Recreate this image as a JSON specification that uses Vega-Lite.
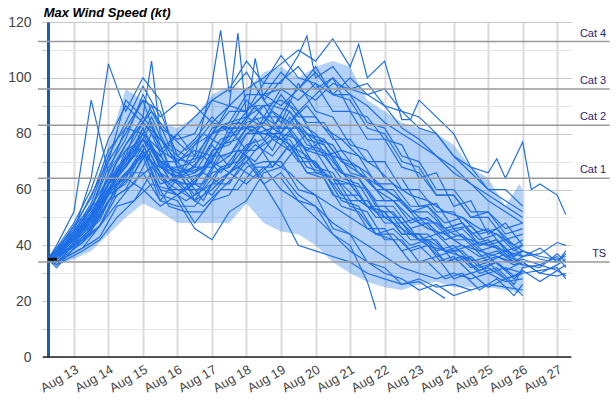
{
  "$schema": "https://vega.github.io/schema/vega-lite/v6.json",
  "description": "Ensemble forecasts of max wind speed",
  "autosize": "none",
  "padding": {"left": 48, "top": 22, "right": 45, "bottom": 45},
  "width": 523,
  "height": 335,
  "background": "white",
  "title": {
    "text": "Max Wind Speed (kt)",
    "anchor": "start",
    "font": "Liberation Sans",
    "fontSize": 13,
    "fontStyle": "italic",
    "fontWeight": "bold",
    "color": "#000",
    "offset": 5,
    "dx": 36,
    "dy": 10
  },
  "config": {"view": {"stroke": null}},
  "datasets": {
    "band": [
      {"t":12.25,"lo":34,"hi":36},{"t":12.5,"lo":33,"hi":38},{"t":13,"lo":35,"hi":46},{"t":13.5,"lo":38,"hi":56},
      {"t":14,"lo":44,"hi":76},{"t":14.5,"lo":50,"hi":96},{"t":15,"lo":55,"hi":92},{"t":15.5,"lo":52,"hi":84},
      {"t":16,"lo":48,"hi":82},{"t":16.5,"lo":48,"hi":86},{"t":17,"lo":48,"hi":94},{"t":17.5,"lo":48,"hi":97},
      {"t":18,"lo":55,"hi":96},{"t":18.5,"lo":48,"hi":102},{"t":19,"lo":45,"hi":104},{"t":19.5,"lo":44,"hi":100},
      {"t":20,"lo":40,"hi":104},{"t":20.5,"lo":34,"hi":106},{"t":21,"lo":30,"hi":104},{"t":21.5,"lo":27,"hi":92},
      {"t":22,"lo":25,"hi":88},{"t":22.5,"lo":24,"hi":84},{"t":23,"lo":26,"hi":82},{"t":23.5,"lo":27,"hi":80},
      {"t":24,"lo":25,"hi":76},{"t":24.5,"lo":25,"hi":68},{"t":25,"lo":25,"hi":64},{"t":25.5,"lo":24,"hi":54},
      {"t":25.9,"lo":23,"hi":62},{"t":26,"lo":23,"hi":60}
    ],
    "cats": [
      {"name":"TS","v":34},{"name":"Cat 1","v":64},{"name":"Cat 2","v":83},{"name":"Cat 3","v":96},{"name":"Cat 4","v":113}
    ],
    "members": [
      {"m":1,"t":12.25,"v":35},{"m":1,"t":12.5,"v":37},{"m":1,"t":13,"v":42},{"m":1,"t":13.5,"v":50},{"m":1,"t":14,"v":62},{"m":1,"t":14.5,"v":70},{"m":1,"t":15,"v":78},{"m":1,"t":15.5,"v":72},{"m":1,"t":16,"v":80},{"m":1,"t":16.5,"v":86},{"m":1,"t":17,"v":92},{"m":1,"t":17.5,"v":90},{"m":1,"t":18,"v":96},{"m":1,"t":18.5,"v":100},{"m":1,"t":19,"v":105},{"m":1,"t":19.5,"v":110},{"m":1,"t":20,"v":106},{"m":1,"t":20.5,"v":114},{"m":1,"t":21,"v":104},{"m":1,"t":21.25,"v":112},{"m":1,"t":21.5,"v":100},{"m":1,"t":22,"v":106},{"m":1,"t":22.5,"v":85},{"m":1,"t":22.75,"v":85},{"m":1,"t":23,"v":92},{"m":1,"t":23.5,"v":86},{"m":1,"t":24,"v":80},{"m":1,"t":24.5,"v":68},{"m":1,"t":25,"v":66},{"m":1,"t":25.25,"v":71},{"m":1,"t":25.5,"v":64},{"m":1,"t":26,"v":77},{"m":1,"t":26.25,"v":60},{"m":1,"t":26.5,"v":62},{"m":1,"t":27,"v":58},{"m":1,"t":27.25,"v":51},
      {"m":2,"t":12.25,"v":35},{"m":2,"t":12.5,"v":38},{"m":2,"t":13,"v":47},{"m":2,"t":13.5,"v":53},{"m":2,"t":14,"v":70},{"m":2,"t":14.5,"v":80},{"m":2,"t":15,"v":92},{"m":2,"t":15.5,"v":74},{"m":2,"t":16,"v":80},{"m":2,"t":16.5,"v":72},{"m":2,"t":17,"v":98},{"m":2,"t":17.25,"v":117},{"m":2,"t":17.5,"v":95},{"m":2,"t":18,"v":102},{"m":2,"t":18.5,"v":92},{"m":2,"t":19,"v":99},{"m":2,"t":19.5,"v":104},{"m":2,"t":20,"v":96},{"m":2,"t":20.5,"v":100},{"m":2,"t":21,"v":88},{"m":2,"t":21.5,"v":86},{"m":2,"t":22,"v":78},{"m":2,"t":22.5,"v":76},{"m":2,"t":23,"v":64},{"m":2,"t":23.5,"v":66},{"m":2,"t":24,"v":54},{"m":2,"t":24.5,"v":56},{"m":2,"t":25,"v":44},{"m":2,"t":25.5,"v":48},{"m":2,"t":26,"v":40},
      {"m":3,"t":12.25,"v":35},{"m":3,"t":12.5,"v":33},{"m":3,"t":13,"v":41},{"m":3,"t":13.5,"v":47},{"m":3,"t":14,"v":60},{"m":3,"t":14.5,"v":64},{"m":3,"t":15,"v":76},{"m":3,"t":15.5,"v":62},{"m":3,"t":16,"v":64},{"m":3,"t":16.5,"v":68},{"m":3,"t":17,"v":80},{"m":3,"t":17.5,"v":90},{"m":3,"t":17.75,"v":116},{"m":3,"t":18,"v":86},{"m":3,"t":18.25,"v":107},{"m":3,"t":18.5,"v":92},{"m":3,"t":19,"v":84},{"m":3,"t":19.5,"v":98},{"m":3,"t":20,"v":88},{"m":3,"t":20.5,"v":86},{"m":3,"t":21,"v":76},{"m":3,"t":21.5,"v":74},{"m":3,"t":22,"v":64},{"m":3,"t":22.5,"v":64},{"m":3,"t":23,"v":54},{"m":3,"t":23.5,"v":55},{"m":3,"t":24,"v":46},{"m":3,"t":24.5,"v":47},{"m":3,"t":25,"v":40},{"m":3,"t":25.5,"v":42},{"m":3,"t":26,"v":36},
      {"m":4,"t":12.25,"v":35},{"m":4,"t":12.5,"v":38},{"m":4,"t":13,"v":42},{"m":4,"t":13.5,"v":54},{"m":4,"t":14,"v":58},{"m":4,"t":14.5,"v":74},{"m":4,"t":15,"v":78},{"m":4,"t":15.5,"v":72},{"m":4,"t":16,"v":64},{"m":4,"t":16.5,"v":76},{"m":4,"t":17,"v":80},{"m":4,"t":17.5,"v":88},{"m":4,"t":18,"v":88},{"m":4,"t":18.5,"v":98},{"m":4,"t":19,"v":98},{"m":4,"t":19.5,"v":108},{"m":4,"t":19.75,"v":115},{"m":4,"t":20,"v":100},{"m":4,"t":20.5,"v":104},{"m":4,"t":21,"v":96},{"m":4,"t":21.5,"v":98},{"m":4,"t":22,"v":90},{"m":4,"t":22.5,"v":88},{"m":4,"t":23,"v":82},{"m":4,"t":23.5,"v":80},{"m":4,"t":24,"v":72},{"m":4,"t":24.5,"v":68},{"m":4,"t":25,"v":60},{"m":4,"t":25.5,"v":60},{"m":4,"t":26,"v":54},
      {"m":5,"t":12.25,"v":35},{"m":5,"t":12.5,"v":39},{"m":5,"t":13,"v":45},{"m":5,"t":13.5,"v":64},{"m":5,"t":14,"v":105},{"m":5,"t":14.5,"v":88},{"m":5,"t":15,"v":100},{"m":5,"t":15.5,"v":92},{"m":5,"t":16,"v":68},{"m":5,"t":16.5,"v":66},{"m":5,"t":17,"v":70},{"m":5,"t":17.5,"v":82},{"m":5,"t":18,"v":74},{"m":5,"t":18.5,"v":86},{"m":5,"t":19,"v":86},{"m":5,"t":19.5,"v":82},{"m":5,"t":20,"v":74},{"m":5,"t":20.5,"v":72},{"m":5,"t":21,"v":62},{"m":5,"t":21.5,"v":60},{"m":5,"t":22,"v":50},{"m":5,"t":22.5,"v":50},{"m":5,"t":23,"v":42},{"m":5,"t":23.5,"v":42},{"m":5,"t":24,"v":34},{"m":5,"t":24.5,"v":36},{"m":5,"t":25,"v":30},{"m":5,"t":25.5,"v":32},{"m":5,"t":26,"v":30},
      {"m":6,"t":12.25,"v":35},{"m":6,"t":12.5,"v":36},{"m":6,"t":13,"v":43},{"m":6,"t":13.5,"v":49},{"m":6,"t":14,"v":66},{"m":6,"t":14.5,"v":76},{"m":6,"t":15,"v":86},{"m":6,"t":15.25,"v":106},{"m":6,"t":15.5,"v":80},{"m":6,"t":16,"v":68},{"m":6,"t":16.5,"v":56},{"m":6,"t":17,"v":66},{"m":6,"t":17.5,"v":68},{"m":6,"t":18,"v":76},{"m":6,"t":18.5,"v":78},{"m":6,"t":19,"v":86},{"m":6,"t":19.5,"v":76},{"m":6,"t":20,"v":74},{"m":6,"t":20.5,"v":64},{"m":6,"t":21,"v":62},{"m":6,"t":21.5,"v":54},{"m":6,"t":22,"v":52},{"m":6,"t":22.5,"v":44},{"m":6,"t":23,"v":44},{"m":6,"t":23.5,"v":36},{"m":6,"t":24,"v":38},{"m":6,"t":24.5,"v":32},{"m":6,"t":25,"v":34},{"m":6,"t":25.5,"v":28},{"m":6,"t":26,"v":30},
      {"m":7,"t":12.25,"v":35},{"m":7,"t":12.5,"v":40},{"m":7,"t":13,"v":52},{"m":7,"t":13.5,"v":92},{"m":7,"t":14,"v":66},{"m":7,"t":14.5,"v":82},{"m":7,"t":15,"v":92},{"m":7,"t":15.5,"v":88},{"m":7,"t":16,"v":72},{"m":7,"t":16.5,"v":68},{"m":7,"t":17,"v":68},{"m":7,"t":17.5,"v":80},{"m":7,"t":18,"v":82},{"m":7,"t":18.5,"v":90},{"m":7,"t":19,"v":80},{"m":7,"t":19.5,"v":88},{"m":7,"t":20,"v":78},{"m":7,"t":20.5,"v":76},{"m":7,"t":21,"v":66},{"m":7,"t":21.5,"v":64},{"m":7,"t":22,"v":56},{"m":7,"t":22.5,"v":56},{"m":7,"t":23,"v":48},{"m":7,"t":23.5,"v":48},{"m":7,"t":24,"v":42},{"m":7,"t":24.5,"v":42},{"m":7,"t":25,"v":36},{"m":7,"t":25.5,"v":38},{"m":7,"t":26,"v":33},{"m":7,"t":26.5,"v":32},{"m":7,"t":27,"v":37},{"m":7,"t":27.25,"v":34},
      {"m":8,"t":12.25,"v":35},{"m":8,"t":12.5,"v":37},{"m":8,"t":13,"v":45},{"m":8,"t":13.5,"v":55},{"m":8,"t":14,"v":72},{"m":8,"t":14.5,"v":84},{"m":8,"t":15,"v":97},{"m":8,"t":15.5,"v":86},{"m":8,"t":16,"v":91},{"m":8,"t":16.5,"v":90},{"m":8,"t":17,"v":84},{"m":8,"t":17.5,"v":82},{"m":8,"t":18,"v":82},{"m":8,"t":18.5,"v":80},{"m":8,"t":19,"v":80},{"m":8,"t":19.5,"v":78},{"m":8,"t":20,"v":68},{"m":8,"t":20.5,"v":66},{"m":8,"t":21,"v":56},{"m":8,"t":21.5,"v":56},{"m":8,"t":22,"v":48},{"m":8,"t":22.5,"v":48},{"m":8,"t":23,"v":42},{"m":8,"t":23.5,"v":44},{"m":8,"t":24,"v":38},{"m":8,"t":24.5,"v":40},{"m":8,"t":25,"v":34},{"m":8,"t":25.5,"v":37},{"m":8,"t":26,"v":33},
      {"m":9,"t":12.25,"v":35},{"m":9,"t":12.5,"v":32},{"m":9,"t":13,"v":39},{"m":9,"t":13.5,"v":45},{"m":9,"t":14,"v":56},{"m":9,"t":14.5,"v":60},{"m":9,"t":15,"v":72},{"m":9,"t":15.5,"v":56},{"m":9,"t":16,"v":54},{"m":9,"t":16.5,"v":54},{"m":9,"t":17,"v":62},{"m":9,"t":17.5,"v":62},{"m":9,"t":18,"v":72},{"m":9,"t":18.5,"v":64},{"m":9,"t":19,"v":64},{"m":9,"t":19.5,"v":56},{"m":9,"t":20,"v":54},{"m":9,"t":20.5,"v":44},{"m":9,"t":21,"v":40},{"m":9,"t":21.5,"v":27},{"m":9,"t":21.75,"v":17},
      {"m":10,"t":12.25,"v":35},{"m":10,"t":12.5,"v":34},{"m":10,"t":13,"v":40},{"m":10,"t":13.5,"v":46},{"m":10,"t":14,"v":58},{"m":10,"t":14.5,"v":62},{"m":10,"t":15,"v":74},{"m":10,"t":15.5,"v":60},{"m":10,"t":16,"v":58},{"m":10,"t":16.5,"v":48},{"m":10,"t":17,"v":56},{"m":10,"t":17.5,"v":58},{"m":10,"t":18,"v":68},{"m":10,"t":18.5,"v":70},{"m":10,"t":19,"v":70},{"m":10,"t":19.5,"v":60},{"m":10,"t":20,"v":58},{"m":10,"t":20.5,"v":46},{"m":10,"t":21,"v":44},{"m":10,"t":21.5,"v":34},{"m":10,"t":22,"v":32},{"m":10,"t":22.5,"v":26},{"m":10,"t":23,"v":27},{"m":10,"t":23.5,"v":23},{"m":10,"t":23.75,"v":21},
      {"m":11,"t":12.25,"v":35},{"m":11,"t":12.5,"v":36},{"m":11,"t":13,"v":42},{"m":11,"t":13.5,"v":48},{"m":11,"t":14,"v":60},{"m":11,"t":14.5,"v":64},{"m":11,"t":15,"v":74},{"m":11,"t":15.5,"v":58},{"m":11,"t":16,"v":56},{"m":11,"t":16.5,"v":46},{"m":11,"t":17,"v":42},{"m":11,"t":17.5,"v":52},{"m":11,"t":18,"v":56},{"m":11,"t":18.5,"v":66},{"m":11,"t":19,"v":68},{"m":11,"t":19.5,"v":76},{"m":11,"t":20,"v":66},{"m":11,"t":20.5,"v":64},{"m":11,"t":21,"v":54},{"m":11,"t":21.5,"v":52},{"m":11,"t":22,"v":42},{"m":11,"t":22.5,"v":42},{"m":11,"t":23,"v":34},{"m":11,"t":23.5,"v":36},{"m":11,"t":24,"v":28},{"m":11,"t":24.5,"v":30},{"m":11,"t":25,"v":25},{"m":11,"t":25.5,"v":28},{"m":11,"t":26,"v":22},
      {"m":12,"t":12.25,"v":35},{"m":12,"t":12.5,"v":37},{"m":12,"t":13.25,"v":44},{"m":12,"t":13.75,"v":52},{"m":12,"t":14.25,"v":66},{"m":12,"t":14.75,"v":72},{"m":12,"t":15.25,"v":84},{"m":12,"t":15.75,"v":68},{"m":12,"t":16.25,"v":66},{"m":12,"t":16.75,"v":68},{"m":12,"t":17.25,"v":78},{"m":12,"t":17.75,"v":80},{"m":12,"t":18.25,"v":90},{"m":12,"t":18.75,"v":82},{"m":12,"t":19.25,"v":92},{"m":12,"t":19.75,"v":84},{"m":12,"t":20.25,"v":84},{"m":12,"t":20.75,"v":74},{"m":12,"t":21.25,"v":72},{"m":12,"t":21.75,"v":62},{"m":12,"t":22.25,"v":62},{"m":12,"t":22.75,"v":54},{"m":12,"t":23.25,"v":54},{"m":12,"t":23.75,"v":46},{"m":12,"t":24.25,"v":48},{"m":12,"t":24.75,"v":40},{"m":12,"t":25.25,"v":42},{"m":12,"t":25.75,"v":36},{"m":12,"t":26,"v":38},{"m":12,"t":26.5,"v":36},{"m":12,"t":27,"v":35},{"m":12,"t":27.25,"v":36},
      {"m":13,"t":12.25,"v":35},{"m":13,"t":12.5,"v":35},{"m":13,"t":13,"v":41},{"m":13,"t":13.5,"v":49},{"m":13,"t":14,"v":62},{"m":13,"t":14.5,"v":68},{"m":13,"t":15,"v":78},{"m":13,"t":15.5,"v":66},{"m":13,"t":16,"v":62},{"m":13,"t":16.5,"v":62},{"m":13,"t":17,"v":74},{"m":13,"t":17.5,"v":76},{"m":13,"t":18,"v":84},{"m":13,"t":18.5,"v":86},{"m":13,"t":19,"v":82},{"m":13,"t":19.5,"v":82},{"m":13,"t":20,"v":78},{"m":13,"t":20.5,"v":68},{"m":13,"t":21,"v":64},{"m":13,"t":21.5,"v":54},{"m":13,"t":22,"v":52},{"m":13,"t":22.5,"v":44},{"m":13,"t":23,"v":44},{"m":13,"t":23.5,"v":38},{"m":13,"t":24,"v":40},{"m":13,"t":24.5,"v":34},{"m":13,"t":25,"v":36},{"m":13,"t":25.5,"v":31},{"m":13,"t":26,"v":34},{"m":13,"t":26.5,"v":30},{"m":13,"t":27,"v":29},{"m":13,"t":27.25,"v":30},
      {"m":14,"t":12.25,"v":35},{"m":14,"t":12.5,"v":38},{"m":14,"t":13.25,"v":47},{"m":14,"t":13.75,"v":55},{"m":14,"t":14.25,"v":68},{"m":14,"t":14.75,"v":74},{"m":14,"t":15.25,"v":86},{"m":14,"t":15.75,"v":72},{"m":14,"t":16.25,"v":70},{"m":14,"t":16.75,"v":72},{"m":14,"t":17.25,"v":82},{"m":14,"t":17.75,"v":84},{"m":14,"t":18.25,"v":82},{"m":14,"t":18.75,"v":74},{"m":14,"t":19.25,"v":86},{"m":14,"t":19.75,"v":76},{"m":14,"t":20.25,"v":74},{"m":14,"t":20.75,"v":66},{"m":14,"t":21.25,"v":64},{"m":14,"t":21.75,"v":56},{"m":14,"t":22.25,"v":56},{"m":14,"t":22.75,"v":48},{"m":14,"t":23.25,"v":50},{"m":14,"t":23.75,"v":44},{"m":14,"t":24.25,"v":46},{"m":14,"t":24.75,"v":40},{"m":14,"t":25.25,"v":42},{"m":14,"t":25.75,"v":36},{"m":14,"t":26,"v":38},
      {"m":15,"t":12.25,"v":35},{"m":15,"t":12.5,"v":36},{"m":15,"t":13,"v":43},{"m":15,"t":13.5,"v":49},{"m":15,"t":14,"v":60},{"m":15,"t":14.5,"v":66},{"m":15,"t":15,"v":66},{"m":15,"t":15.5,"v":56},{"m":15,"t":16,"v":64},{"m":15,"t":16.5,"v":66},{"m":15,"t":17,"v":76},{"m":15,"t":17.5,"v":68},{"m":15,"t":18,"v":80},{"m":15,"t":18.5,"v":84},{"m":15,"t":19,"v":94},{"m":15,"t":19.5,"v":86},{"m":15,"t":20,"v":86},{"m":15,"t":20.5,"v":78},{"m":15,"t":21,"v":78},{"m":15,"t":21.5,"v":70},{"m":15,"t":22,"v":70},{"m":15,"t":22.5,"v":60},{"m":15,"t":23,"v":60},{"m":15,"t":23.5,"v":52},{"m":15,"t":24,"v":52},{"m":15,"t":24.5,"v":44},{"m":15,"t":25,"v":46},{"m":15,"t":25.5,"v":38},{"m":15,"t":26,"v":40},
      {"m":16,"t":12.25,"v":35},{"m":16,"t":12.5,"v":37},{"m":16,"t":13,"v":45},{"m":16,"t":13.5,"v":53},{"m":16,"t":14,"v":68},{"m":16,"t":14.5,"v":78},{"m":16,"t":15,"v":94},{"m":16,"t":15.5,"v":82},{"m":16,"t":16,"v":78},{"m":16,"t":16.5,"v":80},{"m":16,"t":17,"v":92},{"m":16,"t":17.5,"v":96},{"m":16,"t":18,"v":106},{"m":16,"t":18.5,"v":98},{"m":16,"t":19,"v":108},{"m":16,"t":19.5,"v":100},{"m":16,"t":20,"v":98},{"m":16,"t":20.5,"v":88},{"m":16,"t":21,"v":88},{"m":16,"t":21.5,"v":78},{"m":16,"t":22,"v":78},{"m":16,"t":22.5,"v":68},{"m":16,"t":23,"v":66},{"m":16,"t":23.5,"v":58},{"m":16,"t":24,"v":58},{"m":16,"t":24.5,"v":50},{"m":16,"t":25,"v":52},{"m":16,"t":25.5,"v":44},{"m":16,"t":26,"v":46},
      {"m":17,"t":12.25,"v":35},{"m":17,"t":12.5,"v":34},{"m":17,"t":13.25,"v":39},{"m":17,"t":13.75,"v":43},{"m":17,"t":14.25,"v":54},{"m":17,"t":14.75,"v":56},{"m":17,"t":15.25,"v":66},{"m":17,"t":15.75,"v":54},{"m":17,"t":16.25,"v":52},{"m":17,"t":16.75,"v":52},{"m":17,"t":17.25,"v":60},{"m":17,"t":17.75,"v":60},{"m":17,"t":18.25,"v":68},{"m":17,"t":18.75,"v":68},{"m":17,"t":19.25,"v":76},{"m":17,"t":19.75,"v":66},{"m":17,"t":20.25,"v":66},{"m":17,"t":20.75,"v":56},{"m":17,"t":21.25,"v":54},{"m":17,"t":21.75,"v":44},{"m":17,"t":22.25,"v":42},{"m":17,"t":22.75,"v":34},{"m":17,"t":23.25,"v":34},{"m":17,"t":23.75,"v":28},{"m":17,"t":24.25,"v":30},{"m":17,"t":24.75,"v":24},{"m":17,"t":25.25,"v":28},{"m":17,"t":25.75,"v":22},{"m":17,"t":26,"v":26},
      {"m":18,"t":12.25,"v":35},{"m":18,"t":12.5,"v":36},{"m":18,"t":13,"v":44},{"m":18,"t":13.5,"v":51},{"m":18,"t":14,"v":64},{"m":18,"t":14.5,"v":70},{"m":18,"t":15,"v":82},{"m":18,"t":15.5,"v":68},{"m":18,"t":16,"v":66},{"m":18,"t":16.5,"v":58},{"m":18,"t":17,"v":68},{"m":18,"t":17.5,"v":72},{"m":18,"t":18,"v":82},{"m":18,"t":18.5,"v":84},{"m":18,"t":19,"v":80},{"m":18,"t":19.5,"v":72},{"m":18,"t":20,"v":70},{"m":18,"t":20.5,"v":58},{"m":18,"t":21,"v":56},{"m":18,"t":21.5,"v":46},{"m":18,"t":22,"v":46},{"m":18,"t":22.5,"v":38},{"m":18,"t":23,"v":40},{"m":18,"t":23.5,"v":34},{"m":18,"t":24,"v":36},{"m":18,"t":24.5,"v":30},{"m":18,"t":25,"v":32},{"m":18,"t":25.5,"v":28},{"m":18,"t":26,"v":30},{"m":18,"t":26.5,"v":31},{"m":18,"t":27,"v":32},{"m":18,"t":27.25,"v":28},
      {"m":19,"t":12.25,"v":35},{"m":19,"t":12.5,"v":37},{"m":19,"t":13.25,"v":46},{"m":19,"t":13.75,"v":55},{"m":19,"t":14.25,"v":70},{"m":19,"t":14.75,"v":78},{"m":19,"t":15.25,"v":90},{"m":19,"t":15.75,"v":76},{"m":19,"t":16.25,"v":72},{"m":19,"t":16.75,"v":72},{"m":19,"t":17.25,"v":82},{"m":19,"t":17.75,"v":82},{"m":19,"t":18.25,"v":90},{"m":19,"t":18.75,"v":90},{"m":19,"t":19.25,"v":88},{"m":19,"t":19.75,"v":78},{"m":19,"t":20.25,"v":76},{"m":19,"t":20.75,"v":66},{"m":19,"t":21.25,"v":64},{"m":19,"t":21.75,"v":54},{"m":19,"t":22.25,"v":54},{"m":19,"t":22.75,"v":46},{"m":19,"t":23.25,"v":48},{"m":19,"t":23.75,"v":42},{"m":19,"t":24.25,"v":44},{"m":19,"t":24.75,"v":38},{"m":19,"t":25.25,"v":40},{"m":19,"t":25.75,"v":34},{"m":19,"t":26,"v":36},{"m":19,"t":26.5,"v":37},{"m":19,"t":27,"v":41},{"m":19,"t":27.25,"v":40},
      {"m":20,"t":12.25,"v":35},{"m":20,"t":12.5,"v":36},{"m":20,"t":13.25,"v":42},{"m":20,"t":13.75,"v":47},{"m":20,"t":14.25,"v":58},{"m":20,"t":14.75,"v":62},{"m":20,"t":15.25,"v":74},{"m":20,"t":15.75,"v":64},{"m":20,"t":16.25,"v":64},{"m":20,"t":16.75,"v":66},{"m":20,"t":17.25,"v":76},{"m":20,"t":17.75,"v":78},{"m":20,"t":18.25,"v":86},{"m":20,"t":18.75,"v":78},{"m":20,"t":19.25,"v":88},{"m":20,"t":19.75,"v":80},{"m":20,"t":20.25,"v":78},{"m":20,"t":20.75,"v":70},{"m":20,"t":21.25,"v":68},{"m":20,"t":21.75,"v":60},{"m":20,"t":22.25,"v":60},{"m":20,"t":22.75,"v":52},{"m":20,"t":23.25,"v":52},{"m":20,"t":23.75,"v":46},{"m":20,"t":24.25,"v":48},{"m":20,"t":24.75,"v":42},{"m":20,"t":25.25,"v":44},{"m":20,"t":25.75,"v":38},{"m":20,"t":26,"v":40},
      {"m":21,"t":12.25,"v":35},{"m":21,"t":12.5,"v":38},{"m":21,"t":13,"v":47},{"m":21,"t":13.5,"v":57},{"m":21,"t":14,"v":74},{"m":21,"t":14.5,"v":82},{"m":21,"t":15,"v":80},{"m":21,"t":15.5,"v":68},{"m":21,"t":16,"v":68},{"m":21,"t":16.5,"v":70},{"m":21,"t":17,"v":82},{"m":21,"t":17.5,"v":84},{"m":21,"t":18,"v":94},{"m":21,"t":18.5,"v":94},{"m":21,"t":19,"v":102},{"m":21,"t":19.5,"v":96},{"m":21,"t":20,"v":104},{"m":21,"t":20.5,"v":94},{"m":21,"t":21,"v":92},{"m":21,"t":21.5,"v":82},{"m":21,"t":22,"v":80},{"m":21,"t":22.5,"v":70},{"m":21,"t":23,"v":68},{"m":21,"t":23.5,"v":58},{"m":21,"t":24,"v":58},{"m":21,"t":24.5,"v":50},{"m":21,"t":25,"v":50},{"m":21,"t":25.5,"v":42},{"m":21,"t":26,"v":44},
      {"m":22,"t":12.25,"v":35},{"m":22,"t":12.5,"v":34},{"m":22,"t":13.25,"v":41},{"m":22,"t":13.75,"v":47},{"m":22,"t":14.25,"v":60},{"m":22,"t":14.75,"v":66},{"m":22,"t":15.25,"v":76},{"m":22,"t":15.75,"v":64},{"m":22,"t":16.25,"v":62},{"m":22,"t":16.75,"v":62},{"m":22,"t":17.25,"v":72},{"m":22,"t":17.75,"v":74},{"m":22,"t":18.25,"v":74},{"m":22,"t":18.75,"v":78},{"m":22,"t":19.25,"v":78},{"m":22,"t":19.75,"v":68},{"m":22,"t":20.25,"v":66},{"m":22,"t":20.75,"v":58},{"m":22,"t":21.25,"v":58},{"m":22,"t":21.75,"v":50},{"m":22,"t":22.25,"v":50},{"m":22,"t":22.75,"v":42},{"m":22,"t":23.25,"v":42},{"m":22,"t":23.75,"v":34},{"m":22,"t":24.25,"v":36},{"m":22,"t":24.75,"v":30},{"m":22,"t":25.25,"v":32},{"m":22,"t":25.75,"v":26},{"m":22,"t":26,"v":32},{"m":22,"t":26.5,"v":33},{"m":22,"t":27,"v":31},{"m":22,"t":27.25,"v":33},
      {"m":23,"t":12.25,"v":35},{"m":23,"t":12.5,"v":37},{"m":23,"t":13,"v":43},{"m":23,"t":13.5,"v":51},{"m":23,"t":14,"v":64},{"m":23,"t":14.5,"v":68},{"m":23,"t":15,"v":78},{"m":23,"t":15.5,"v":70},{"m":23,"t":16,"v":70},{"m":23,"t":16.5,"v":62},{"m":23,"t":17,"v":72},{"m":23,"t":17.5,"v":72},{"m":23,"t":18,"v":80},{"m":23,"t":18.5,"v":80},{"m":23,"t":19,"v":78},{"m":23,"t":19.5,"v":70},{"m":23,"t":20,"v":70},{"m":23,"t":20.5,"v":62},{"m":23,"t":21,"v":62},{"m":23,"t":21.5,"v":54},{"m":23,"t":22,"v":54},{"m":23,"t":22.5,"v":48},{"m":23,"t":23,"v":50},{"m":23,"t":23.5,"v":44},{"m":23,"t":24,"v":46},{"m":23,"t":24.5,"v":40},{"m":23,"t":25,"v":42},{"m":23,"t":25.5,"v":36},{"m":23,"t":26,"v":38},{"m":23,"t":26.5,"v":35},{"m":23,"t":27,"v":34},{"m":23,"t":27.25,"v":38},
      {"m":24,"t":12.25,"v":35},{"m":24,"t":12.5,"v":36},{"m":24,"t":13.25,"v":45},{"m":24,"t":13.75,"v":53},{"m":24,"t":14.25,"v":66},{"m":24,"t":14.75,"v":72},{"m":24,"t":15.25,"v":72},{"m":24,"t":15.75,"v":60},{"m":24,"t":16.25,"v":60},{"m":24,"t":16.75,"v":60},{"m":24,"t":17.25,"v":68},{"m":24,"t":17.75,"v":70},{"m":24,"t":18.25,"v":78},{"m":24,"t":18.75,"v":68},{"m":24,"t":19.25,"v":76},{"m":24,"t":19.75,"v":66},{"m":24,"t":20.25,"v":64},{"m":24,"t":20.75,"v":54},{"m":24,"t":21.25,"v":52},{"m":24,"t":21.75,"v":44},{"m":24,"t":22.25,"v":44},{"m":24,"t":22.75,"v":38},{"m":24,"t":23.25,"v":40},{"m":24,"t":23.75,"v":34},{"m":24,"t":24.25,"v":36},{"m":24,"t":24.75,"v":31},{"m":24,"t":25.25,"v":34},{"m":24,"t":25.75,"v":29},{"m":24,"t":26,"v":31},
      {"m":25,"t":12.25,"v":35},{"m":25,"t":12.5,"v":37},{"m":25,"t":13,"v":44},{"m":25,"t":13.5,"v":50},{"m":25,"t":14,"v":62},{"m":25,"t":14.5,"v":68},{"m":25,"t":15,"v":82},{"m":25,"t":15.5,"v":70},{"m":25,"t":16,"v":66},{"m":25,"t":16.5,"v":68},{"m":25,"t":17,"v":80},{"m":25,"t":17.5,"v":82},{"m":25,"t":18,"v":92},{"m":25,"t":18.5,"v":86},{"m":25,"t":19,"v":96},{"m":25,"t":19.5,"v":96},{"m":25,"t":20,"v":102},{"m":25,"t":20.5,"v":94},{"m":25,"t":21,"v":94},{"m":25,"t":21.5,"v":84},{"m":25,"t":22,"v":82},{"m":25,"t":22.5,"v":72},{"m":25,"t":23,"v":70},{"m":25,"t":23.5,"v":60},{"m":25,"t":24,"v":60},{"m":25,"t":24.5,"v":52},{"m":25,"t":25,"v":52},{"m":25,"t":25.5,"v":46},{"m":25,"t":26,"v":48},
      {"m":26,"t":12.25,"v":35},{"m":26,"t":12.5,"v":36},{"m":26,"t":13.25,"v":43},{"m":26,"t":13.75,"v":49},{"m":26,"t":14.25,"v":62},{"m":26,"t":14.75,"v":68},{"m":26,"t":15.25,"v":80},{"m":26,"t":15.75,"v":66},{"m":26,"t":16.25,"v":64},{"m":26,"t":16.75,"v":56},{"m":26,"t":17.25,"v":68},{"m":26,"t":17.75,"v":70},{"m":26,"t":18.25,"v":80},{"m":26,"t":18.75,"v":82},{"m":26,"t":19.25,"v":82},{"m":26,"t":19.75,"v":74},{"m":26,"t":20.25,"v":72},{"m":26,"t":20.75,"v":64},{"m":26,"t":21.25,"v":62},{"m":26,"t":21.75,"v":52},{"m":26,"t":22.25,"v":52},{"m":26,"t":22.75,"v":44},{"m":26,"t":23.25,"v":44},{"m":26,"t":23.75,"v":38},{"m":26,"t":24.25,"v":38},{"m":26,"t":24.75,"v":32},{"m":26,"t":25.25,"v":34},{"m":26,"t":25.75,"v":28},{"m":26,"t":26,"v":31},{"m":26,"t":26.5,"v":27},{"m":26,"t":27,"v":31},{"m":26,"t":27.25,"v":29},
      {"m":27,"t":12.25,"v":35},{"m":27,"t":12.5,"v":39},{"m":27,"t":13,"v":48},{"m":27,"t":13.5,"v":60},{"m":27,"t":14,"v":78},{"m":27,"t":14.5,"v":90},{"m":27,"t":15,"v":84},{"m":27,"t":15.5,"v":76},{"m":27,"t":16,"v":62},{"m":27,"t":16.5,"v":56},{"m":27,"t":17,"v":60},{"m":27,"t":17.5,"v":66},{"m":27,"t":18,"v":70},{"m":27,"t":18.5,"v":62},{"m":27,"t":19,"v":66},{"m":27,"t":19.5,"v":58},{"m":27,"t":20,"v":54},{"m":27,"t":20.5,"v":48},{"m":27,"t":21,"v":44},{"m":27,"t":21.5,"v":40},{"m":27,"t":22,"v":36},{"m":27,"t":22.5,"v":32},{"m":27,"t":23,"v":30},{"m":27,"t":23.5,"v":28},{"m":27,"t":24,"v":30},{"m":27,"t":24.5,"v":28},{"m":27,"t":25,"v":30},{"m":27,"t":25.5,"v":27},{"m":27,"t":26,"v":28},
      {"m":28,"t":12.25,"v":35},{"m":28,"t":12.5,"v":33},{"m":28,"t":13.25,"v":38},{"m":28,"t":13.75,"v":42},{"m":28,"t":14.25,"v":50},{"m":28,"t":14.75,"v":56},{"m":28,"t":15.25,"v":62},{"m":28,"t":15.75,"v":60},{"m":28,"t":16.25,"v":56},{"m":28,"t":16.75,"v":60},{"m":28,"t":17.25,"v":64},{"m":28,"t":17.75,"v":68},{"m":28,"t":18.25,"v":64},{"m":28,"t":18.75,"v":70},{"m":28,"t":19.25,"v":66},{"m":28,"t":19.75,"v":60},{"m":28,"t":20.25,"v":56},{"m":28,"t":20.75,"v":52},{"m":28,"t":21.25,"v":48},{"m":28,"t":21.75,"v":44},{"m":28,"t":22.25,"v":46},{"m":28,"t":22.75,"v":40},{"m":28,"t":23.25,"v":42},{"m":28,"t":23.75,"v":38},{"m":28,"t":24.25,"v":40},{"m":28,"t":24.75,"v":36},{"m":28,"t":25.25,"v":38},{"m":28,"t":25.75,"v":34},{"m":28,"t":26,"v":35},{"m":28,"t":26.5,"v":33},{"m":28,"t":27,"v":36},{"m":28,"t":27.25,"v":32},
      {"m":29,"t":12.25,"v":35},{"m":29,"t":12.5,"v":37},{"m":29,"t":13,"v":44},{"m":29,"t":13.5,"v":52},{"m":29,"t":14,"v":62},{"m":29,"t":14.5,"v":72},{"m":29,"t":15,"v":80},{"m":29,"t":15.5,"v":74},{"m":29,"t":16,"v":70},{"m":29,"t":16.5,"v":76},{"m":29,"t":17,"v":84},{"m":29,"t":17.5,"v":90},{"m":29,"t":18,"v":88},{"m":29,"t":18.5,"v":94},{"m":29,"t":19,"v":96},{"m":29,"t":19.5,"v":92},{"m":29,"t":20,"v":98},{"m":29,"t":20.5,"v":94},{"m":29,"t":21,"v":100},{"m":29,"t":21.5,"v":94},{"m":29,"t":22,"v":96},{"m":29,"t":22.5,"v":88},{"m":29,"t":23,"v":86},{"m":29,"t":23.5,"v":80},{"m":29,"t":24,"v":72},{"m":29,"t":24.5,"v":66},{"m":29,"t":25,"v":60},{"m":29,"t":25.5,"v":56},{"m":29,"t":26,"v":52},
      {"m":30,"t":12.25,"v":35},{"m":30,"t":12.5,"v":36},{"m":30,"t":13.25,"v":42},{"m":30,"t":13.75,"v":52},{"m":30,"t":14.25,"v":64},{"m":30,"t":14.75,"v":80},{"m":30,"t":15.25,"v":88},{"m":30,"t":15.75,"v":80},{"m":30,"t":16.25,"v":74},{"m":30,"t":16.75,"v":80},{"m":30,"t":17.25,"v":76},{"m":30,"t":17.75,"v":84},{"m":30,"t":18.25,"v":80},{"m":30,"t":18.75,"v":88},{"m":30,"t":19.25,"v":84},{"m":30,"t":19.75,"v":90},{"m":30,"t":20.25,"v":82},{"m":30,"t":20.75,"v":78},{"m":30,"t":21.25,"v":72},{"m":30,"t":21.75,"v":68},{"m":30,"t":22.25,"v":62},{"m":30,"t":22.75,"v":58},{"m":30,"t":23.25,"v":56},{"m":30,"t":23.75,"v":52},{"m":30,"t":24.25,"v":50},{"m":30,"t":24.75,"v":46},{"m":30,"t":25.25,"v":44},{"m":30,"t":25.75,"v":40},{"m":30,"t":26,"v":38},
      {"m":31,"t":12.25,"v":35},{"m":31,"t":12.5,"v":35},{"m":31,"t":13,"v":40},{"m":31,"t":13.5,"v":46},{"m":31,"t":14,"v":56},{"m":31,"t":14.5,"v":64},{"m":31,"t":15,"v":60},{"m":31,"t":15.5,"v":54},{"m":31,"t":16,"v":58},{"m":31,"t":16.5,"v":62},{"m":31,"t":17,"v":58},{"m":31,"t":17.5,"v":66},{"m":31,"t":18,"v":62},{"m":31,"t":18.5,"v":68},{"m":31,"t":19,"v":60},{"m":31,"t":19.5,"v":56},{"m":31,"t":20,"v":50},{"m":31,"t":20.5,"v":44},{"m":31,"t":21,"v":38},{"m":31,"t":21.5,"v":34},{"m":31,"t":22,"v":30},{"m":31,"t":22.5,"v":28},{"m":31,"t":23,"v":24},{"m":31,"t":23.5,"v":26},{"m":31,"t":24,"v":22},{"m":31,"t":24.5,"v":24},
      {"m":32,"t":12.25,"v":35},{"m":32,"t":12.5,"v":38},{"m":32,"t":13,"v":46},{"m":32,"t":13.5,"v":58},{"m":32,"t":14,"v":70},{"m":32,"t":14.5,"v":92},{"m":32,"t":15,"v":86},{"m":32,"t":15.5,"v":78},{"m":32,"t":16,"v":70},{"m":32,"t":16.5,"v":74},{"m":32,"t":17,"v":72},{"m":32,"t":17.5,"v":78},{"m":32,"t":18,"v":86},{"m":32,"t":18.5,"v":82},{"m":32,"t":19,"v":78},{"m":32,"t":19.5,"v":84},{"m":32,"t":20,"v":80},{"m":32,"t":20.5,"v":72},{"m":32,"t":21,"v":70},{"m":32,"t":21.5,"v":66},{"m":32,"t":22,"v":60},{"m":32,"t":22.5,"v":56},{"m":32,"t":23,"v":50},{"m":32,"t":23.5,"v":48},{"m":32,"t":24,"v":44},{"m":32,"t":24.5,"v":42},{"m":32,"t":25,"v":40},{"m":32,"t":25.5,"v":38},{"m":32,"t":26,"v":36},{"m":32,"t":26.5,"v":39},{"m":32,"t":27,"v":34},{"m":32,"t":27.25,"v":37},
      {"m":33,"t":12.25,"v":35},{"m":33,"t":12.5,"v":37},{"m":33,"t":13,"v":43},{"m":33,"t":13.5,"v":50},{"m":33,"t":14,"v":58},{"m":33,"t":14.5,"v":66},{"m":33,"t":15,"v":72},{"m":33,"t":15.5,"v":68},{"m":33,"t":16,"v":64},{"m":33,"t":16.5,"v":72},{"m":33,"t":17,"v":80},{"m":33,"t":17.5,"v":84},{"m":33,"t":18,"v":86},{"m":33,"t":18.5,"v":90},{"m":33,"t":19,"v":92},{"m":33,"t":19.5,"v":88},{"m":33,"t":20,"v":94},{"m":33,"t":20.5,"v":100},{"m":33,"t":21,"v":94},{"m":33,"t":21.5,"v":90},{"m":33,"t":22,"v":84},{"m":33,"t":22.5,"v":80},{"m":33,"t":23,"v":76},{"m":33,"t":23.5,"v":72},{"m":33,"t":24,"v":68},{"m":33,"t":24.5,"v":62},{"m":33,"t":25,"v":58},{"m":33,"t":25.5,"v":54},{"m":33,"t":26,"v":50},
      {"m":34,"t":12.25,"v":35},{"m":34,"t":12.5,"v":36},{"m":34,"t":13,"v":42},{"m":34,"t":13.5,"v":50},{"m":34,"t":14,"v":60},{"m":34,"t":14.5,"v":68},{"m":34,"t":15,"v":76},{"m":34,"t":15.5,"v":64},{"m":34,"t":16,"v":58},{"m":34,"t":16.5,"v":64},{"m":34,"t":17,"v":70},{"m":34,"t":17.5,"v":66},{"m":34,"t":18,"v":72},{"m":34,"t":18.5,"v":62},{"m":34,"t":19,"v":52},{"m":34,"t":19.5,"v":40},{"m":34,"t":20,"v":38},{"m":34,"t":20.5,"v":36},{"m":34,"t":21,"v":34},{"m":34,"t":21.5,"v":30},{"m":34,"t":22,"v":28},{"m":34,"t":22.5,"v":26},{"m":34,"t":23,"v":28},{"m":34,"t":23.5,"v":25},{"m":34,"t":24,"v":26},{"m":34,"t":24.5,"v":24},{"m":34,"t":25,"v":26},{"m":34,"t":25.5,"v":25},{"m":34,"t":26,"v":24},
      {"m":35,"t":12.25,"v":35},{"m":35,"t":12.5,"v":37},{"m":35,"t":13.25,"v":45},{"m":35,"t":13.75,"v":54},{"m":35,"t":14.25,"v":66},{"m":35,"t":14.75,"v":76},{"m":35,"t":15.25,"v":70},{"m":35,"t":15.75,"v":62},{"m":35,"t":16.25,"v":66},{"m":35,"t":16.75,"v":72},{"m":35,"t":17.25,"v":66},{"m":35,"t":17.75,"v":74},{"m":35,"t":18.25,"v":70},{"m":35,"t":18.75,"v":78},{"m":35,"t":19.25,"v":74},{"m":35,"t":19.75,"v":80},{"m":35,"t":20.25,"v":72},{"m":35,"t":20.75,"v":74},{"m":35,"t":21.25,"v":66},{"m":35,"t":21.75,"v":62},{"m":35,"t":22.25,"v":58},{"m":35,"t":22.75,"v":52},{"m":35,"t":23.25,"v":54},{"m":35,"t":23.75,"v":48},{"m":35,"t":24.25,"v":50},{"m":35,"t":24.75,"v":44},{"m":35,"t":25.25,"v":46},{"m":35,"t":25.75,"v":40},{"m":35,"t":26,"v":42},
      {"m":36,"t":12.25,"v":35},{"m":36,"t":12.5,"v":34},{"m":36,"t":13.25,"v":39},{"m":36,"t":13.75,"v":47},{"m":36,"t":14.25,"v":55},{"m":36,"t":14.75,"v":63},{"m":36,"t":15.25,"v":68},{"m":36,"t":15.75,"v":62},{"m":36,"t":16.25,"v":58},{"m":36,"t":16.75,"v":54},{"m":36,"t":17.25,"v":60},{"m":36,"t":17.75,"v":66},{"m":36,"t":18.25,"v":74},{"m":36,"t":18.75,"v":80},{"m":36,"t":19.25,"v":76},{"m":36,"t":19.75,"v":72},{"m":36,"t":20.25,"v":66},{"m":36,"t":20.75,"v":62},{"m":36,"t":21.25,"v":56},{"m":36,"t":21.75,"v":52},{"m":36,"t":22.25,"v":48},{"m":36,"t":22.75,"v":44},{"m":36,"t":23.25,"v":40},{"m":36,"t":23.75,"v":38},{"m":36,"t":24.25,"v":36},{"m":36,"t":24.75,"v":34},{"m":36,"t":25.25,"v":36},{"m":36,"t":25.75,"v":33},{"m":36,"t":26,"v":34},{"m":36,"t":26.5,"v":30},{"m":36,"t":27,"v":33},{"m":36,"t":27.25,"v":35},
      {"m":37,"t":12.25,"v":35},{"m":37,"t":12.5,"v":38},{"m":37,"t":13,"v":44},{"m":37,"t":13.5,"v":54},{"m":37,"t":14,"v":64},{"m":37,"t":14.5,"v":76},{"m":37,"t":15,"v":84},{"m":37,"t":15.5,"v":78},{"m":37,"t":16,"v":72},{"m":37,"t":16.5,"v":78},{"m":37,"t":17,"v":86},{"m":37,"t":17.5,"v":80},{"m":37,"t":18,"v":88},{"m":37,"t":18.5,"v":94},{"m":37,"t":19,"v":90},{"m":37,"t":19.5,"v":96},{"m":37,"t":20,"v":92},{"m":37,"t":20.5,"v":98},{"m":37,"t":21,"v":96},{"m":37,"t":21.5,"v":94},{"m":37,"t":22,"v":90},{"m":37,"t":22.5,"v":82},{"m":37,"t":23,"v":78},{"m":37,"t":23.5,"v":72},{"m":37,"t":24,"v":66},{"m":37,"t":24.5,"v":62},{"m":37,"t":25,"v":56},{"m":37,"t":25.5,"v":52},{"m":37,"t":26,"v":48},
      {"m":38,"t":12.25,"v":35},{"m":38,"t":12.5,"v":36},{"m":38,"t":13.25,"v":41},{"m":38,"t":13.75,"v":50},{"m":38,"t":14.25,"v":61},{"m":38,"t":14.75,"v":70},{"m":38,"t":15.25,"v":75},{"m":38,"t":15.75,"v":66},{"m":38,"t":16.25,"v":60},{"m":38,"t":16.75,"v":66},{"m":38,"t":17.25,"v":62},{"m":38,"t":17.75,"v":70},{"m":38,"t":18.25,"v":76},{"m":38,"t":18.75,"v":72},{"m":38,"t":19.25,"v":80},{"m":38,"t":19.75,"v":74},{"m":38,"t":20.25,"v":78},{"m":38,"t":20.75,"v":70},{"m":38,"t":21.25,"v":66},{"m":38,"t":21.75,"v":60},{"m":38,"t":22.25,"v":56},{"m":38,"t":22.75,"v":50},{"m":38,"t":23.25,"v":46},{"m":38,"t":23.75,"v":44},{"m":38,"t":24.25,"v":40},{"m":38,"t":24.75,"v":38},{"m":38,"t":25.25,"v":36},{"m":38,"t":25.75,"v":34},{"m":38,"t":26,"v":33}
    ]
  },
  "layer": [
    {
      "data": {"name": "band"},
      "mark": {"type": "area", "color": "#1a73e8", "opacity": 0.33},
      "encoding": {
        "x": {
          "field": "t", "type": "quantitative", "title": null,
          "scale": {"domain": [12.25, 27.4], "nice": false, "zero": false},
          "axis": {
            "values": [13,14,15,16,17,18,19,20,21,22,23,24,25,26,27],
            "tickCount": 30,
            "labelExpr": "'Aug ' + datum.value",
            "labelAngle": -30, "labelAlign": "right", "labelBaseline": "top",
            "labelFont": "Liberation Sans", "labelFontSize": 13, "labelColor": "#444",
            "labelPadding": 6, "labelOverlap": false,
            "grid": true, "gridColor": "#dcdcdc", "gridWidth": 2,
            "domain": false, "ticks": false
          }
        },
        "y": {
          "field": "lo", "type": "quantitative", "title": null,
          "scale": {"domain": [0, 120], "nice": false},
          "axis": {
            "values": [0,10,20,30,40,50,60,70,80,90,100,110,120],
            "tickCount": 30,
            "labelExpr": "datum.value % 20 === 0 ? datum.label : ''",
            "labelFont": "Liberation Sans", "labelFontSize": 14, "labelColor": "#444",
            "labelPadding": 11, "labelOverlap": false,
            "grid": true,
            "gridColor": {"condition": {"test": "datum.value % 20 === 0", "value": "#c8c8c8"}, "value": "#e6e6e6"},
            "domainColor": "#1d5bb0", "domainWidth": 3,
            "tickColor": "#c8c8c8", "tickSize": 6
          }
        },
        "y2": {"field": "hi"}
      }
    },
    {
      "data": {"name": "members"},
      "mark": {"type": "line", "color": "#1f6fe5", "strokeWidth": 1.2},
      "encoding": {
        "x": {"field": "t", "type": "quantitative", "title": null},
        "y": {"field": "v", "type": "quantitative", "title": null},
        "detail": {"field": "m", "type": "nominal"}
      }
    },
    {
      "data": {"name": "cats"},
      "mark": {"type": "rule", "color": "#999", "strokeWidth": 1.5},
      "encoding": {
        "x": {"datum": 11.96},
        "x2": {"datum": 28.52},
        "y": {"field": "v", "type": "quantitative", "title": null}
      }
    },
    {
      "data": {"name": "cats"},
      "mark": {"type": "text", "align": "right", "baseline": "bottom", "dy": -3, "font": "Liberation Sans", "fontSize": 11, "color": "#262673"},
      "encoding": {
        "x": {"datum": 28.42},
        "y": {"field": "v", "type": "quantitative", "title": null},
        "text": {"field": "name"}
      }
    },
    {
      "data": {"values": [{}]},
      "mark": {"type": "rule", "color": "#222", "strokeWidth": 1.5},
      "encoding": {
        "x": {"datum": 12.1},
        "x2": {"datum": 27.41},
        "y": {"datum": 0}
      }
    },
    {
      "data": {"values": [{}]},
      "mark": {"type": "rule", "color": "#111", "strokeWidth": 3},
      "encoding": {
        "x": {"datum": 12.25},
        "x2": {"datum": 12.51},
        "y": {"datum": 35}
      }
    }
  ]
}
